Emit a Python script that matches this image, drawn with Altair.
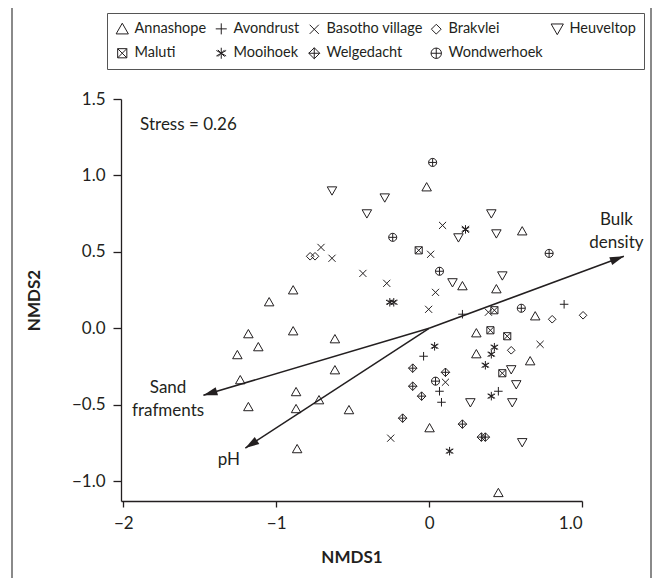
import altair as alt
import pandas as pd
import math

FONT = "Lato"
INK = "#231f20"

sites = ["Annashope", "Avondrust", "Basotho village", "Brakvlei", "Heuveltop",
         "Maluti", "Mooihoek", "Welgedacht", "Wondwerhoek"]

annashope_x = [-0.016, 0.609, 0.218, 0.440, 0.694, -1.046, -0.889, -0.889, -1.182, -1.117,
               -1.254, -1.235, -1.182, -0.616, -0.616, -0.870, -0.870, -0.720, -0.863, -0.524,
               0.309, 0.309, 0.661, 0.003, 0.453]
annashope_y = [0.922, 0.634, 0.275, 0.255, 0.078, 0.170, 0.248, -0.020, -0.039, -0.124,
               -0.176, -0.340, -0.516, -0.072, -0.275, -0.418, -0.529, -0.471, -0.791, -0.536,
               -0.033, -0.170, -0.216, -0.654, -1.078]
avondrust_x = [0.218, 0.883, -0.036, 0.068, 0.081, 0.453]
avondrust_y = [0.092, 0.157, -0.183, -0.412, -0.484, -0.412]
basotho_x = [-0.707, -0.635, 0.088, 0.238, 0.010, -0.433, -0.277, 0.042, -0.003, 0.388,
             0.726, 0.107, -0.251]
basotho_y = [0.529, 0.458, 0.673, 0.647, 0.484, 0.359, 0.294, 0.235, 0.124, 0.105,
             -0.105, -0.353, -0.719]
brakvlei_x = [-0.778, -0.746, 0.805, 1.007, 0.537]
brakvlei_y = [0.471, 0.471, 0.059, 0.085, -0.144]
heuveltop_x = [-0.635, -0.290, -0.407, 0.407, 0.440, 0.192, 0.479, 0.153, 0.537, 0.570,
               0.270, 0.544, 0.609]
heuveltop_y = [0.902, 0.856, 0.752, 0.752, 0.621, 0.595, 0.346, 0.301, -0.268, -0.366,
               -0.484, -0.484, -0.745]
maluti_x = [-0.068, 0.427, 0.401, 0.511, 0.479]
maluti_y = [0.510, 0.118, -0.013, -0.052, -0.294]
mooihoek_x = [-0.257, -0.231, 0.238, 0.036, 0.427, 0.407, 0.368, 0.407, 0.134]
mooihoek_y = [0.170, 0.170, 0.647, -0.118, -0.124, -0.170, -0.242, -0.444, -0.804]
welgedacht_x = [-0.107, 0.107, -0.107, -0.049, -0.173, 0.218, 0.342, 0.368]
welgedacht_y = [-0.261, -0.288, -0.379, -0.444, -0.588, -0.627, -0.712, -0.712]
wondwerhoek_x = [0.023, -0.238, 0.068, 0.785, 0.603, 0.042]
wondwerhoek_y = [1.085, 0.595, 0.373, 0.490, 0.131, -0.346]

series = [
    ("Annashope", annashope_x, annashope_y),
    ("Avondrust", avondrust_x, avondrust_y),
    ("Basotho village", basotho_x, basotho_y),
    ("Brakvlei", brakvlei_x, brakvlei_y),
    ("Heuveltop", heuveltop_x, heuveltop_y),
    ("Maluti", maluti_x, maluti_y),
    ("Mooihoek", mooihoek_x, mooihoek_y),
    ("Welgedacht", welgedacht_x, welgedacht_y),
    ("Wondwerhoek", wondwerhoek_x, wondwerhoek_y),
]
rows = []
for name, xs, ys in series:
    for a, b in zip(xs, ys):
        rows.append({"site": name, "x": a, "y": b})
points = pd.DataFrame(rows)

shape_paths = [
    "M0,-1L1,0.75L-1,0.75Z",                                   # triangle up
    "M-0.9,0L0.9,0M0,-0.9L0,0.9",                              # plus
    "M-0.75,-0.75L0.75,0.75M-0.75,0.75L0.75,-0.75",            # cross
    "M0,-0.8L0.8,0L0,0.8L-0.8,0Z",                             # diamond
    "M0,1L1,-0.75L-1,-0.75Z",                                  # triangle down
    "M-0.75,-0.75L0.75,-0.75L0.75,0.75L-0.75,0.75ZM-0.75,-0.75L0.75,0.75M0.75,-0.75L-0.75,0.75",
    "M0,-0.9L0,0.9M-0.8,-0.45L0.8,0.45M-0.8,0.45L0.8,-0.45M-0.55,-0.55L0.55,0.55M-0.55,0.55L0.55,-0.55",
    "M0,-0.9L0.9,0L0,0.9L-0.9,0ZM-0.9,0L0.9,0M0,-0.9L0,0.9",
    "M-0.85,0A0.85,0.85 0 1,1 0.85,0A0.85,0.85 0 1,1 -0.85,0ZM-0.85,0L0.85,0M0,-0.85L0,0.85",
]

vec_names = ["Bulk density", "Sand fragments", "pH"]
vec_x = [1.274, -1.476, -1.202]
vec_y = [0.471, -0.438, -0.784]
vec_angle = [math.degrees(math.atan2(a, b)) % 360 for a, b in zip(vec_x, vec_y)]
vectors = pd.DataFrame({"name": vec_names, "x0": [0.0] * 3, "y0": [0.0] * 3,
                        "x": vec_x, "y": vec_y, "angle": vec_angle})

label_text = ["Bulk\ndensity", "Sand\nfrafments", "pH"]
label_x = [1.225, -1.707, -1.31]
label_y = [0.706, -0.392, -0.863]
labels = pd.DataFrame({"text": label_text, "x": label_x, "y": label_y})

stress = pd.DataFrame({"text": ["Stress = 0.26"], "x": [-1.89], "y": [1.333]})

xscale = alt.Scale(domain=[-2.015, 1.0], nice=False, zero=False)
yscale = alt.Scale(domain=[-1.13, 1.5], nice=False, zero=False)

xaxis = alt.Axis(values=[-2, -1, 0, 1], labelExpr="datum.value == 1 ? '1.0' : format(datum.value, 'd')",
                 title="NMDS1", grid=False, tickSize=6, labelPadding=8, titlePadding=18)
yaxis = alt.Axis(values=[-1, -0.5, 0, 0.5, 1, 1.5], format=".1f", title="NMDS2", grid=False,
                 tickSize=8, labelPadding=8, titlePadding=28)

frame = alt.Chart(pd.DataFrame({"a": [0]})).mark_rect(
    fill="white", fillOpacity=0, stroke="#8a8a8a", strokeWidth=2
).encode(x=alt.value(-109), x2=alt.value(530), y=alt.value(-93), y2=alt.value(500))

pts = alt.Chart(points).mark_point(filled=False, size=90, strokeWidth=1, color=INK, opacity=1).encode(
    x=alt.X("x:Q", scale=xscale, axis=xaxis),
    y=alt.Y("y:Q", scale=yscale, axis=yaxis),
    shape=alt.Shape("site:N", scale=alt.Scale(domain=sites, range=shape_paths),
                    legend=alt.Legend(title=None, orient="none", legendX=-14, legendY=-86,
                                      direction="horizontal", columns=5, symbolSize=150,
                                      symbolStrokeWidth=1,
                                      symbolStrokeColor=INK, labelFontSize=14.5, labelFont=FONT,
                                      labelColor=INK, strokeColor="#555", fillColor="white",
                                      padding=8, rowPadding=8, columnPadding=6, labelOffset=5,
                                      labelLimit=300)),
)

rules = alt.Chart(vectors).mark_rule(color=INK, strokeWidth=1.5).encode(
    x=alt.X("x0:Q", scale=xscale), y=alt.Y("y0:Q", scale=yscale), x2="x:Q", y2="y:Q"
)
heads = alt.Chart(vectors).mark_point(
    shape="M0,0L-0.6,2L0.6,2Z", filled=True, size=196, color=INK, opacity=1
).encode(x=alt.X("x:Q", scale=xscale), y=alt.Y("y:Q", scale=yscale), angle=alt.Angle("angle:Q", scale=None))

txt = alt.Chart(labels).mark_text(font=FONT, fontSize=17, color=INK, lineBreak="\n", align="center",
                                  baseline="middle", lineHeight=23).encode(
    x=alt.X("x:Q", scale=xscale), y=alt.Y("y:Q", scale=yscale), text="text:N"
)
st = alt.Chart(stress).mark_text(font=FONT, fontSize=17, color=INK, align="left", baseline="middle").encode(
    x=alt.X("x:Q", scale=xscale), y=alt.Y("y:Q", scale=yscale), text="text:N"
)

chart = alt.layer(frame, rules, heads, pts, txt, st).properties(
    width=461, height=402,
    autosize=alt.AutoSizeParams(type="none"),
    padding={"left": 113, "top": 91, "right": 70, "bottom": 77},
).configure_view(stroke=None).configure_axis(
    domainColor=INK, domainWidth=1.3, tickColor=INK, tickWidth=1.3,
    labelFont=FONT, labelFontSize=17, labelColor=INK,
    titleFont=FONT, titleFontSize=17, titleFontWeight="bold", titleColor=INK,
)

chart.save("out.html", embed_options={"renderer": "svg", "actions": False})
